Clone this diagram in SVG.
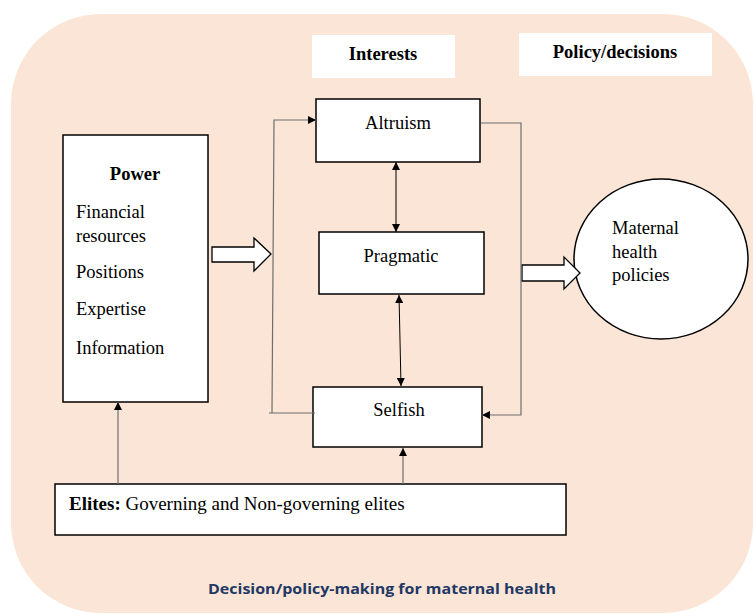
<svg xmlns="http://www.w3.org/2000/svg" width="755" height="615" viewBox="0 0 755 615">
<defs>
<marker id="ah" viewBox="0 0 10 10" refX="10" refY="5" markerWidth="9" markerHeight="8" markerUnits="userSpaceOnUse" orient="auto-start-reverse">
<path d="M0,0 L10,5 L0,10 z" fill="#000"/>
</marker>
<style>
.box{fill:#fff;stroke:#000;stroke-width:1.5}
.lbl{fill:#fff;stroke:none}
.t{font-family:"Liberation Serif","Times New Roman",serif;font-size:18.5px;fill:#000}
.b{font-weight:bold}
.con{fill:none;stroke:#6e6e6e;stroke-width:1.2}
.dbl{fill:none;stroke:#000;stroke-width:1}
.blk{fill:#fff;stroke:#000;stroke-width:1.3}
</style>
</defs>
<rect x="11" y="14" width="742" height="599" rx="90" ry="90" fill="#FBE5D6"/>
<g id="interests-label"><rect class="lbl" x="312" y="35" width="143" height="43"/><text class="t b" x="383" y="60" text-anchor="middle">Interests</text></g>
<g id="policy-label"><rect class="lbl" x="519" y="33" width="193" height="43"/><text class="t b" x="615" y="58" text-anchor="middle">Policy/decisions</text></g>
<g id="power"><rect class="box" x="63" y="135" width="145" height="267"/>
<text class="t b" x="135" y="180" text-anchor="middle">Power</text>
<text class="t" x="76" y="218">Financial</text>
<text class="t" x="76" y="242">resources</text>
<text class="t" x="76" y="278">Positions</text>
<text class="t" x="76" y="315">Expertise</text>
<text class="t" x="76" y="354">Information</text></g>
<g id="altruism"><rect class="box" x="316" y="99" width="164" height="63"/><text class="t" x="398" y="129" text-anchor="middle">Altruism</text></g>
<g id="pragmatic"><rect class="box" x="319" y="232" width="165" height="62"/><text class="t" x="401" y="262" text-anchor="middle">Pragmatic</text></g>
<g id="selfish"><rect class="box" x="313" y="387" width="169" height="60"/><text class="t" x="399" y="416" text-anchor="middle">Selfish</text></g>
<g id="maternal"><ellipse class="box" cx="661" cy="259" rx="87" ry="80"/>
<text class="t" x="612" y="234">Maternal</text>
<text class="t" x="612" y="258">health</text>
<text class="t" x="612" y="281">policies</text></g>
<g id="elites"><rect class="box" x="55" y="484" width="511" height="51"/><text class="t" x="69" y="510" style="font-size:19px"><tspan class="b">Elites:</tspan> Governing and Non-governing elites</text></g>
<g id="connectors">
<polygon class="blk" points="212,247 254,247 254,238 271,254 254,271 254,262 212,262"/>
<polygon class="blk" points="522,265 564,265 564,257 580,273 564,289 564,281 522,281"/>
<path class="con" d="M269,413 L315,413"/>
<path class="con" d="M272,413 L274,120 L316,120" marker-end="url(#ah)"/>
<path class="con" d="M481,123 L521,123 L521,415 L482,415" marker-end="url(#ah)"/>
<path class="dbl" d="M396,162 L396,232" marker-start="url(#ah)" marker-end="url(#ah)"/>
<path class="dbl" d="M399,295 L401,386" marker-start="url(#ah)" marker-end="url(#ah)"/>
<path class="con" d="M118,484 L118,402" marker-end="url(#ah)"/>
<path class="con" d="M403,484 L403,448" marker-end="url(#ah)"/>
</g>
<text x="382" y="594" text-anchor="middle" font-family="'Open Sans','Liberation Sans',sans-serif" font-weight="bold" font-size="15" fill="#1F3864" textLength="348" lengthAdjust="spacingAndGlyphs">Decision/policy-making for maternal health</text>
</svg>
